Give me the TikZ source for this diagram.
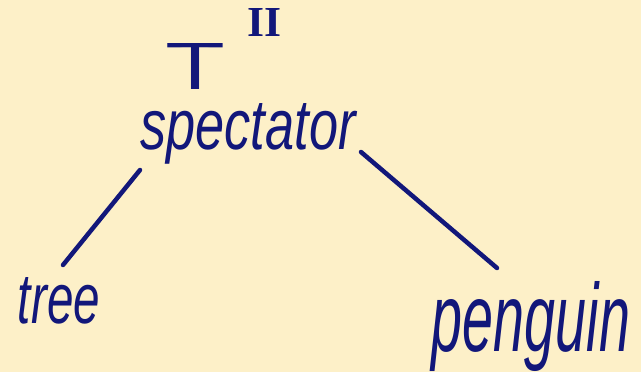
\documentclass[tikz,border=0pt]{standalone}
\usepackage{fontspec}
\usepackage{graphicx}
\setmainfont{Liberation Sans}
\newfontfamily\numfont{Liberation Serif}
\newfontfamily\tfont{Latin Modern Sans}
\definecolor{paper}{HTML}{FDF0C8}
\definecolor{ink}{HTML}{12177A}
\begin{document}
\begin{tikzpicture}[x=1pt,y=-1pt,
  lbl/.style={inner sep=0pt, text=ink, font=\itshape},
  edge/.style={draw=ink, line width=4.5pt, line cap=round}]
\fill[paper] (0,0) rectangle (641,372);
\useasboundingbox (0,0) rectangle (641,372);
\node[lbl, anchor=center] (T) at (196,66) {\resizebox{62pt}{46pt}{\tfont\upshape T}};
\node[lbl, anchor=center] (II) at (265,22) {\resizebox{34pt}{28pt}{\numfont\upshape\bfseries II}};
\node[lbl, anchor=center] (spec) at (248,134) {\resizebox{215pt}{46pt}{spectator}};
\node[lbl, anchor=center] (tree) at (59,301) {\resizebox{82pt}{46pt}{tree}};
\node[lbl, anchor=center] (peng) at (531,327) {\resizebox{198pt}{70pt}{penguin}};
\coordinate (l1) at (140,170);
\coordinate (l2) at (63,265);
\coordinate (r1) at (361,152);
\coordinate (r2) at (497,268);
\draw[edge] (l1) -- (l2);
\draw[edge] (r1) -- (r2);
\end{tikzpicture}
\end{document}
